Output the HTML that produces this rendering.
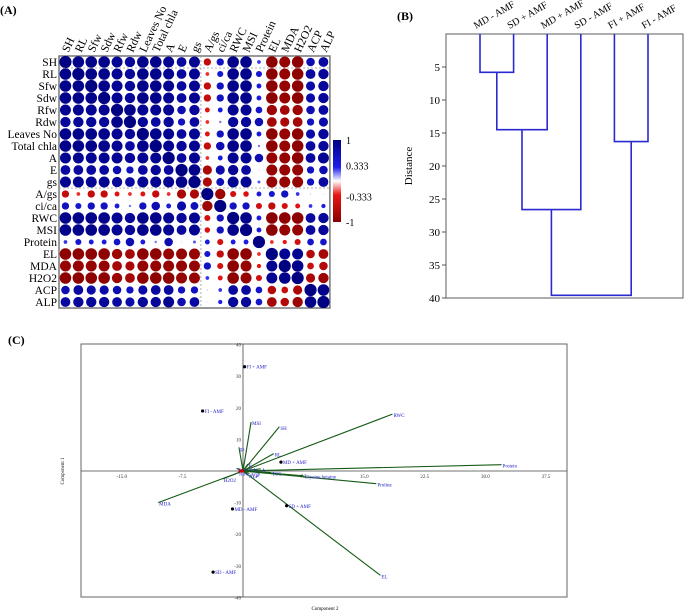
<!DOCTYPE html>
<html><head><meta charset="utf-8"><style>
body{margin:0;background:#fff}
svg{display:block;font-family:"Liberation Serif",serif}
text{font-family:"Liberation Serif",serif}
</style></head><body>
<svg id="fig" width="685" height="614" viewBox="0 0 685 614" font-family="Liberation Serif, serif">
<text x="0" y="14" font-size="12" font-weight="bold">(A)</text>
<text x="397" y="20" font-size="12" font-weight="bold">(B)</text>
<text x="8" y="344" font-size="12" font-weight="bold">(C)</text>
<g id="corr"></g>
<g id="dendro"></g>
<g id="pca"></g>
</svg>
<script>
// ---------- Panel A data ----------
const corrVars = ["SH","RL","Sfw","Sdw","Rfw","Rdw","Leaves No","Total chla","A","E","gs","A/gs","ci/ca","RWC","MSI","Protein","EL","MDA","H2O2","ACP","ALP"];
const corrRows = [
[1,.95,.95,.95,.9,.85,.95,.95,.9,.8,.9,-.6,.6,.95,.95,.3,-.95,-.9,-.95,.7,.8],
[.95,1,.95,.95,.9,.85,.95,.95,.9,.8,.9,-.3,.5,.95,.95,.5,-.95,-.9,-.95,.8,.85],
[.95,.95,1,.95,.9,.85,.95,.95,.9,.8,.9,-.6,.6,.95,.95,.4,-.95,-.9,-.95,.75,.85],
[.95,.95,.95,1,.9,.85,.95,.95,.9,.8,.9,-.6,.6,.95,.95,.4,-.95,-.9,-.95,.75,.85],
[.9,.9,.9,.9,1,.95,.9,.9,.9,.7,.85,-.4,.4,.9,.9,.55,-.85,-.8,-.85,.7,.8],
[.85,.85,.85,.85,.95,1,.85,.8,.85,.6,.8,-.3,.2,.85,.85,.7,-.8,-.75,-.8,.6,.75],
[.95,.95,.95,.95,.9,.85,1,.95,.9,.8,.9,-.4,.6,.95,.95,.4,-.95,-.9,-.95,.75,.85],
[.95,.95,.95,.95,.9,.8,.95,1,.9,.85,.9,-.6,.7,.95,.95,.2,-.95,-.9,-.95,.8,.85],
[.9,.9,.9,.9,.9,.85,.9,.9,1,.8,.9,-.3,.4,.9,.9,.7,-.9,-.9,-.95,.8,.9],
[.8,.8,.8,.8,.7,.6,.8,.85,.8,1,.95,-.75,.75,.85,.8,.05,-.9,-.9,-.9,.6,.7],
[.9,.9,.9,.9,.85,.8,.9,.9,.9,.95,1,-.75,.65,.9,.9,.25,-.9,-.9,-.9,.6,.8],
[-.6,-.3,-.6,-.6,-.4,-.3,-.4,-.6,-.3,-.75,-.75,1,-.85,-.5,-.45,.4,.5,.6,.3,.1,.05],
[.6,.5,.6,.6,.4,.2,.6,.7,.4,.75,.65,-.85,1,.6,.6,-.5,-.6,-.5,-.4,.3,.35],
[.95,.95,.95,.95,.9,.85,.95,.95,.9,.85,.9,-.5,.6,1,.95,.4,-.95,-.95,-.95,.8,.85],
[.95,.95,.95,.95,.9,.85,.95,.95,.9,.8,.9,-.45,.6,.95,1,.4,-.95,-.9,-.9,.8,.85],
[.3,.5,.4,.4,.55,.7,.4,.2,.7,.05,.25,.4,-.5,.4,.4,1,-.3,-.35,-.5,.55,.55],
[-.95,-.95,-.95,-.95,-.85,-.8,-.95,-.95,-.9,-.9,-.9,.5,-.6,-.95,-.95,-.3,1,.9,.9,-.7,-.8],
[-.9,-.9,-.9,-.9,-.8,-.75,-.9,-.9,-.9,-.9,-.9,.6,-.5,-.95,-.9,-.35,.9,1,.95,-.55,-.7],
[-.95,-.95,-.95,-.95,-.85,-.8,-.95,-.95,-.95,-.9,-.9,.3,-.4,-.95,-.9,-.5,.9,.95,1,-.75,-.85],
[.7,.8,.75,.75,.7,.6,.75,.8,.8,.6,.6,.1,.3,.8,.8,.55,-.7,-.55,-.75,1,.95],
[.8,.85,.85,.85,.8,.75,.85,.85,.9,.7,.8,.05,.35,.85,.85,.55,-.8,-.7,-.85,.95,1]];
const colorbarTicks = ["1","0.333","-0.333","-1"];
const colorbarVals = [1,0.333,-0.333,-1];

// ---------- Panel B data ----------
const leafLabels = ["MD - AMF","SD + AMF","MD + AMF","SD - AMF","FI + AMF","FI - AMF"];
const mergeA = [0,6,7,4,8];
const mergeB = [1,2,3,5,9];
const mergeHeight = [5.8,14.5,26.6,16.3,39.6];
const distTicks = [5,10,15,20,25,30,35,40];

// ---------- Panel C data ----------
const vecLabels = ["Protein","RWC","SH","MSI","RL","gs","MDA","Proline","EL","H2O2","Glycine betaine","A","Total chla","E","TSC","ACP","ALP","Rdw"];
const vecX = [32,18.5,4.5,1,3.8,-0.5,-10.5,16.5,17,-2.5,7.5,2.2,-0.8,0.6,3.5,0.8,0.6,-0.6];
const vecY = [2,18,14,15.5,5.5,7.5,-10,-4,-33,-2.5,-1.5,0.7,0.8,2.2,-0.5,-0.8,-1.2,-0.4];
const ptLabels = ["FI + AMF","FI - AMF","MD + AMF","SD + AMF","MD - AMF","SD - AMF"];
const ptX = [0.2,-5,4.7,5.4,-1.3,-3.7];
const ptY = [33,19,2.8,-11,-12,-32];
const xTicks = [-15,-7.5,7.5,15,22.5,30,37.5];
const yTicks = [40,30,20,10,-10,-20,-30,-40];

const NS="http://www.w3.org/2000/svg";
function mk(tag,attrs,parent){const e=document.createElementNS(NS,tag);for(const k in attrs)e.setAttribute(k,attrs[k]);parent.appendChild(e);return e;}
function lerp(a,b,t){return a.map((v,i)=>Math.round(v+(b[i]-v)*t));}
function corrColor(r){
  let c;
  if(r>=0.333)c=lerp([30,30,235],[0,0,130],(r-0.333)/0.667);
  else if(r>=0)c=lerp([255,255,255],[30,30,235],r/0.333);
  else if(r>=-0.333)c=lerp([255,255,255],[235,20,20],-r/0.333);
  else c=lerp([235,20,20],[135,0,0],(-r-0.333)/0.667);
  return `rgb(${c[0]},${c[1]},${c[2]})`;
}

// ---------- Panel A ----------
(function(){
  const g=document.getElementById('corr');
  const x0=59,y0=56,cw=12.9,ch=12.0,n=corrVars.length;
  const bx=mk('rect',{x:x0,y:y0,width:cw*n,height:ch*n,fill:'#fff',stroke:'#777','stroke-width':1.5},g);
  
  corrVars.forEach((v,i)=>{
    const rl=mk('text',{x:x0-2,y:y0+ch*(i+0.5)+4,'font-size':11.5,'text-anchor':'end'},g);rl.textContent=v;
    
    const cx=x0+cw*(i+0.5)+3,cy=y0-3;
    const cl=mk('text',{x:cx,y:cy,'font-size':11.5,transform:`rotate(-65 ${cx} ${cy})`},g);cl.textContent=v;
    
  });
  corrRows.forEach((row,j)=>row.forEach((r,i)=>{
    const c=mk('circle',{cx:x0+cw*(i+0.5),cy:y0+ch*(j+0.5),r:Math.max(0.6,Math.abs(r)*6.1),fill:corrColor(r)},g);
    
  }));
  [[x0,y0+ch,x0+cw*n,y0+ch],[x0,y0+ch*11,x0+cw*n,y0+ch*11]].forEach(p=>{
    const l=mk('line',{x1:p[0],y1:p[1],x2:p[2],y2:p[3],stroke:'#999','stroke-dasharray':'2,2','stroke-width':0.8},g);
    });
  const lv=mk('line',{x1:x0+cw*11,y1:y0,x2:x0+cw*11,y2:y0+ch*n,stroke:'#999','stroke-dasharray':'2,2','stroke-width':0.8},g);
  
  const defs=mk('defs',{},g);
  const gr=mk('linearGradient',{id:'cb',x1:0,y1:0,x2:0,y2:1},defs);
  [1,0.666,0.333,0,-0.333,-0.666,-1].forEach(v=>mk('stop',{offset:((1-v)/2),'stop-color':corrColor(v)},gr));
  const cbTop=140,cbBot=222;
  const cb=mk('rect',{x:333,y:cbTop,width:8,height:cbBot-cbTop,fill:'url(#cb)'},g);
  
  colorbarTicks.forEach((t,i)=>{
    const y=cbTop+(1-colorbarVals[i])/2*(cbBot-cbTop);
    const tx=mk('text',{x:346,y:y+4+(i==1?-2:i==2?2:0),'font-size':10},g);tx.textContent=t;
    
  });
})();

// ---------- Panel B ----------
(function(){
  const g=document.getElementById('dendro');
  const L=446,R=683,T=34,B=298,maxD=40;
  const yS=d=>T+d/maxD*(B-T);
  const leafX=i=>480+i*33.6;
  const fr=mk('rect',{x:L,y:T,width:R-L,height:B-T,fill:'none',stroke:'#777','stroke-width':1.2},g);
  
  distTicks.forEach(d=>{
    const tk=mk('line',{x1:L-4,y1:yS(d),x2:L,y2:yS(d),stroke:'#555'},g);
    
    const t=mk('text',{x:L-6,y:yS(d)+4,'font-size':11,'text-anchor':'end'},g);t.textContent=d;
    
  });
  const yt=mk('text',{x:412,y:166,'font-size':11,'text-anchor':'middle',transform:'rotate(-90 412 166)'},g);yt.textContent='Distance';
  
  const nodes=leafLabels.map((l,i)=>({x:leafX(i),h:0}));
  leafLabels.forEach((l,i)=>{
    const x=leafX(i)-4,y=29;
    const t=mk('text',{x:x,y:y,'font-size':10,transform:`rotate(-30 ${x} ${y})`},g);t.textContent=l;
    
  });
  mergeA.forEach((a,k)=>{
    const b=mergeB[k],h=mergeHeight[k],na=nodes[a],nb=nodes[b],y=yS(h);
    const p=mk('path',{d:`M${na.x},${yS(na.h)}V${y}H${nb.x}V${yS(nb.h)}`,fill:'none',stroke:'#2a2ad0','stroke-width':1.6},g);
    
    nodes.push({x:(na.x+nb.x)/2,h:h});
  });
})();

// ---------- Panel C ----------
(function(){
  const g=document.getElementById('pca');
  const L=81,R=567,T=344,B=597,x0=243,y0=471;
  const xS=v=>x0+v*8.08, yS=v=>y0-v*3.16;
  const fr=mk('rect',{x:L,y:T,width:R-L,height:B-T,fill:'none',stroke:'#666','stroke-width':1},g);
  
  const ax=mk('line',{x1:L,y1:y0,x2:R,y2:y0,stroke:'#444','stroke-width':0.8},g);
  
  const ay=mk('line',{x1:x0,y1:T,x2:x0,y2:B,stroke:'#444','stroke-width':0.8},g);
  
  xTicks.forEach(v=>{
    const t=mk('text',{x:xS(v),y:y0+7,'font-size':5,'text-anchor':'middle',fill:'#333'},g);t.textContent=v.toFixed(1);
    
  });
  yTicks.forEach(v=>{
    const t=mk('text',{x:x0-2,y:yS(v)+2,'font-size':5,'text-anchor':'end',fill:'#333'},g);t.textContent=v;
    
  });
  const xt=mk('text',{x:325,y:610,'font-size':5,'text-anchor':'middle'},g);xt.textContent='Component 2';
  
  const ytt=mk('text',{x:64,y:471,'font-size':5,'text-anchor':'middle',transform:'rotate(-90 64 471)'},g);ytt.textContent='Component 1';
  
  vecLabels.forEach((l,i)=>{
    const ln=mk('line',{x1:x0,y1:y0,x2:xS(vecX[i]),y2:yS(vecY[i]),stroke:'#155a15','stroke-width':1.1},g);
    
    const t=mk('text',{x:xS(vecX[i])+1,y:yS(vecY[i])+3,'font-size':5,fill:'#2424c8'},g);t.textContent=l;
    
  });
  ptLabels.forEach((l,i)=>{
    const c=mk('circle',{cx:xS(ptX[i]),cy:yS(ptY[i]),r:1.6,fill:'#000'},g);
    
    const t=mk('text',{x:xS(ptX[i])+2,y:yS(ptY[i])+2,'font-size':5,fill:'#2424c8'},g);t.textContent=l;
    
  });
  const o=mk('rect',{x:x0-4,y:y0-1.5,width:5,height:3,fill:'#c00'},g);
  
})();
</script>
</body></html>
